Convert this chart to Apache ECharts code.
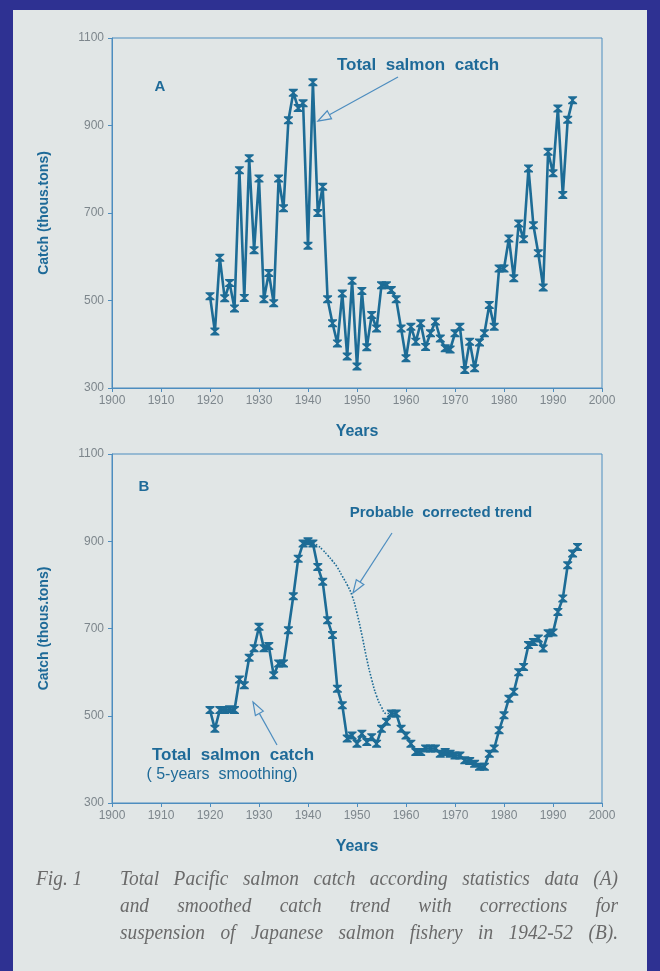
<!DOCTYPE html>
<html>
<head>
<meta charset="utf-8">
<script src="https://cdn.jsdelivr.net/npm/echarts@6/dist/echarts.min.js"></script>
<style>
body { margin: 0; background: #2e3192; }
#panel { position: absolute; left: 13px; top: 10px; width: 634px; height: 961px; background: #e1e6e6; }
#chart { position: absolute; left: 0; top: 0; width: 660px; height: 971px; }
.cap { position: absolute; font: italic 22px "Liberation Serif", serif; color: #6a6a6a;
	transform: scaleX(0.88); transform-origin: 0 0; }
.ln { left: 120px; width: 566px; text-align: justify; text-align-last: justify; }
</style>
</head>
<body>
<div id="panel"></div>
<div id="chart"></div>
<div class="cap" style="left:36px;top:865px;">Fig. 1</div>
<div class="cap ln" style="top:865px;">Total Pacific salmon catch according statistics data (A)</div>
<div class="cap ln" style="top:892px;">and smoothed catch trend with corrections for</div>
<div class="cap ln" style="top:919px;">suspension of Japanese salmon fishery in 1942-52 (B).</div>
<script>
// A: annual catch, 1920-1994
var startA = 1920;
var catchA = [510, 429, 598, 505, 540, 482, 798, 506, 825, 615,
	779, 503, 563, 494, 779, 711, 912, 975, 940, 951,
	625, 999, 700, 760, 503, 448, 402, 516, 372, 545,
	349, 522, 393, 467, 436, 535, 535, 524, 503, 436,
	368, 440, 406, 448, 394, 425, 452, 413, 391, 388,
	425, 440, 341, 406, 345, 404, 425, 490, 440, 573,
	573, 642, 551, 676, 640, 802, 672, 608, 530, 840,
	791, 939, 741, 913, 958];

// B: 5-years smoothing, 1920-1995
var startB = 1920;
var catchB = [513, 470, 513, 513, 515, 513, 583, 570, 633, 655,
	704, 655, 660, 593, 620, 620, 696, 774, 860, 895,
	900, 895, 841, 807, 719, 685, 562, 524, 448, 455,
	436, 459, 440, 451, 436, 470, 486, 505, 505, 470,
	455, 436, 417, 417, 425, 425, 425, 413, 417, 413,
	409, 409, 398, 396, 390, 383, 383, 413, 425, 467,
	501, 539, 555, 600, 612, 662, 669, 677, 654, 689,
	691, 738, 769, 845, 872, 887];

// probable corrected trend, 1941-1957
var startC = 1941;
var catchC = [895, 890, 880, 868, 855, 840, 820, 800, 775, 735,
	685, 630, 583, 545, 520, 505, 505];

var xTicks = [1900, 2000, 10];
var yTicks = [300, 1100, 200];

function pairs(start, arr) {
	return arr.map(function(v, i) { return [start + i, v]; });
}

var lineColor = '#1d6c96';
var axisColor = '#4d8dbf';
var textBlue = '#1e6a98';
var tickGrey = '#7d868c';
var bg = '#e1e6e6';
var marker = 'path://M0,0 L10,0 L10,1.5 L6,5 L10,8.5 L10,10 L0,10 L0,8.5 L4,5 L0,1.5 Z';

function xAxis(gi) {
	return {
		gridIndex: gi, type: 'value', min: xTicks[0], max: xTicks[1], interval: xTicks[2],
		axisLine: { lineStyle: { color: axisColor, width: 1 } },
		axisTick: { show: true, length: 4, lineStyle: { color: axisColor } },
		axisLabel: { color: tickGrey, fontSize: 12, margin: 7, fontFamily: 'Liberation Sans',
			formatter: function(v) { return String(v); } },
		splitLine: { show: false },
		name: 'Years', nameLocation: 'middle', nameGap: 36,
		nameTextStyle: { color: textBlue, fontSize: 16, fontWeight: 'bold', fontFamily: 'Liberation Sans' }
	};
}

function yAxis(gi) {
	return {
		gridIndex: gi, type: 'value', min: yTicks[0], max: yTicks[1], interval: yTicks[2],
		axisLine: { show: true, lineStyle: { color: axisColor, width: 1 } },
		axisTick: { show: true, length: 4, lineStyle: { color: axisColor } },
		axisLabel: { color: tickGrey, fontSize: 12, margin: 8, fontFamily: 'Liberation Sans',
			formatter: function(v) { return String(v); } },
		splitLine: { show: false },
		name: 'Catch (thous.tons)', nameLocation: 'middle', nameGap: 61, nameRotate: 90,
		nameTextStyle: { color: textBlue, fontSize: 14, fontWeight: 'bold', fontFamily: 'Liberation Sans' }
	};
}

function arrow(tail, tip) {
	var dx = tail[0] - tip[0], dy = tail[1] - tip[1];
	var L = Math.sqrt(dx * dx + dy * dy), ux = dx / L, uy = dy / L;
	var len = 13, w = 4.5;
	var bx = tip[0] + ux * len, by = tip[1] + uy * len;
	return [{
		type: 'line', shape: { x1: bx, y1: by, x2: tail[0], y2: tail[1] },
		style: { stroke: axisColor, lineWidth: 1.2 }
	}, {
		type: 'polygon', shape: { points: [tip, [bx + uy * w, by - ux * w], [bx - uy * w, by + ux * w]] },
		style: { fill: bg, stroke: axisColor, lineWidth: 1.2 }
	}];
}

function label(text, x, y, size, weight) {
	return {
		type: 'text', x: x, y: y,
		style: { text: text, fill: textBlue, fontSize: size, fontWeight: weight,
			fontFamily: 'Liberation Sans', align: 'center', verticalAlign: 'middle' }
	};
}

var graphics = [
	label('A', 160, 87, 15, 'bold'),
	label('Total  salmon  catch', 418, 65, 17, 'bold'),
	label('B', 144, 487, 15, 'bold'),
	label('Probable  corrected trend', 441, 513, 15, 'bold'),
	label('Total  salmon  catch', 233, 755, 17, 'bold'),
	label('( 5-years  smoothing)', 222, 775, 16, 'normal')
].concat(arrow([398, 77], [318, 121]))
 .concat(arrow([392, 533], [353, 593]))
 .concat(arrow([277, 745], [253, 702]));

var chart = echarts.init(document.getElementById('chart'));
chart.setOption({
	animation: false,
	backgroundColor: 'transparent',
	grid: [
		{ left: 112, right: 58, top: 38, bottom: 583, show: true, borderColor: axisColor, borderWidth: 1 },
		{ left: 112, right: 58, top: 454, bottom: 168, show: true, borderColor: axisColor, borderWidth: 1 }
	],
	xAxis: [xAxis(0), xAxis(1)],
	yAxis: [yAxis(0), yAxis(1)],
	graphic: graphics,
	series: [{
		type: 'line', xAxisIndex: 0, yAxisIndex: 0,
		data: pairs(startA, catchA),
		symbol: marker, symbolSize: [9, 8], showAllSymbol: true,
		itemStyle: { color: lineColor },
		lineStyle: { color: lineColor, width: 2.6 }
	}, {
		type: 'line', xAxisIndex: 1, yAxisIndex: 1,
		data: pairs(startC, catchC), smooth: true,
		symbol: 'none',
		lineStyle: { color: lineColor, width: 1.6, type: 'dotted' }
	}, {
		type: 'line', xAxisIndex: 1, yAxisIndex: 1,
		data: pairs(startB, catchB),
		symbol: marker, symbolSize: [9, 8], showAllSymbol: true,
		itemStyle: { color: lineColor },
		lineStyle: { color: lineColor, width: 2.6 }
	}]
});
</script>
</body>
</html>
